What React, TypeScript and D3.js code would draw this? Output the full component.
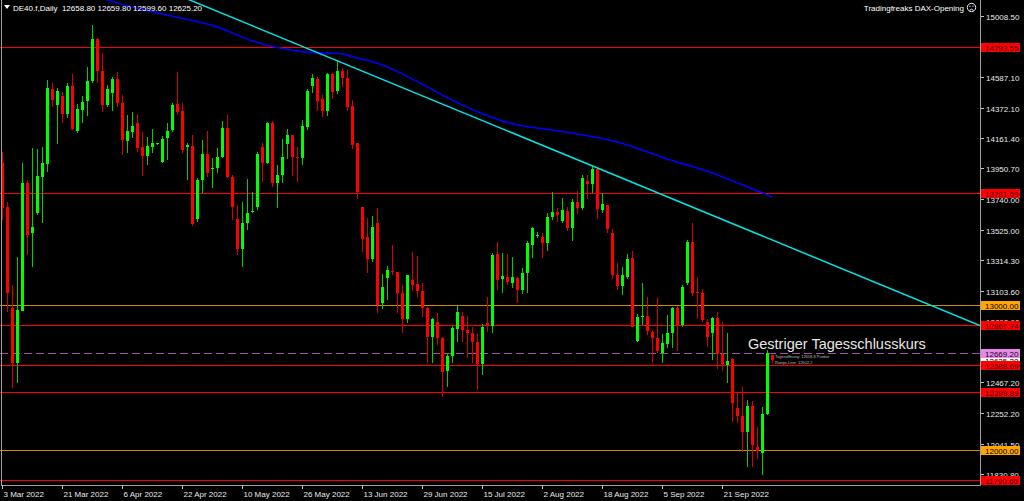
import React from 'react';
import * as d3 from 'd3';

// Daily candles DE40, 3 Mar 2022 .. current bar
const openP = [13989,13683,12983,12601,12962,13850,13503,13642,13891,13982,14502,14391,14453,14329,14523,14211,14356,14419,14557,14849,14627,14391,14474,14571,14405,14141,14204,14266,14100,14037,14100,14120,13995,14162,14218,14398,14349,14100,14107,13600,13871,14051,13947,13954,14030,14231,13891,13600,13392,13572,13649,13683,14100,13989,14266,13850,13905,14120,14183,14030,14023,14238,14523,14571,14433,14349,14606,14488,14627,14578,14384,14127,13683,13475,13322,13572,13017,13191,13239,13232,13087,12906,13177,13149,13101,12983,12781,12885,12774,12545,12649,12837,12927,12830,12809,12747,12594,12878,12858,13357,13184,13198,13156,13191,13107,13225,13420,13482,13475,13434,13614,13649,13586,13656,13538,13718,13676,13864,13843,13947,13662,13697,13503,13212,13135,13198,13330,12754,12920,12927,12816,12774,12670,12733,12809,12983,12865,13156,13440,13094,13087,12885,12809,12913,12663,12587,12629,12289,12233,12122,12303,12018,11977,12247,12658.8];
const highP = [14065,13718,13142,13336,13989,13871,14093,14086,14100,14564,14544,14509,14481,14544,14606,14398,14453,14655,14946,14856,14752,14530,14585,14620,14460,14322,14342,14329,14204,14169,14225,14130,14176,14266,14405,14620,14405,14127,14183,13884,14148,14211,14023,14093,14280,14322,13905,13697,13718,13878,13787,14065,14127,14273,14280,13975,14155,14225,14183,14100,14287,14502,14606,14585,14460,14613,14613,14703,14648,14634,14426,14127,13683,13607,13621,13676,13218,13274,13420,13232,13142,13212,13371,13343,13156,12989,12913,12948,12781,12670,12858,13003,12955,12927,12851,12809,12871,13059,13364,13440,13364,13357,13336,13198,13260,13447,13545,13510,13503,13642,13787,13676,13746,13683,13739,13794,13905,13905,13968,13961,13780,13697,13531,13295,13267,13357,13378,12941,13156,13059,12830,13059,12802,12934,12989,12996,13142,13454,13572,13198,13114,12906,12920,12955,12885,12809,12636,12393,12434,12344,12337,12157,12296,12691,12659.8];
const lowP = [13593,12955,12427,12462,12962,13350,13267,13628,13572,13926,14377,14120,14266,14301,14218,14197,14266,14315,14544,14544,14342,14377,14349,14377,14044,14058,14162,14065,13898,13975,14058,14115,13989,14009,14204,14322,14058,13871,13551,13579,13780,13891,13815,13919,14023,13884,13593,13350,13267,13524,13642,13662,13857,13982,13822,13676,13850,14016,13898,13857,13975,14218,14474,14349,14308,14315,14433,14467,14516,14349,14086,13739,13371,13225,13302,12948,12976,13038,13212,12948,12809,12878,13101,13059,12920,12601,12601,12726,12365,12434,12601,12747,12747,12636,12601,12414,12518,12816,12809,13107,13087,13142,13121,13017,13080,13087,13330,13470,13330,13378,13593,13579,13572,13517,13447,13635,13662,13739,13780,13600,13642,13503,13184,13107,13073,13184,12851,12747,12865,12795,12601,12670,12601,12705,12705,12684,12851,13142,13066,12906,12885,12712,12622,12559,12545,12462,12192,12185,11983,11879,11879,11935,11824,12240,12599.6];
const closeP = [13676,13087,12601,12969,13850,13489,13545,13898,13989,14509,14426,14488,14329,14523,14225,14363,14412,14557,14849,14627,14391,14502,14571,14405,14148,14211,14245,14093,14037,14107,14127,14127,14155,14211,14391,14342,14079,14113,13565,13871,14051,13919,13954,14030,14231,13891,13683,13392,13572,13642,13656,14051,13989,14266,13850,13905,14030,14183,14030,14023,14245,14488,14578,14419,14349,14606,14481,14627,14578,14377,14113,13787,13461,13322,13545,13003,13128,13246,13232,13087,12906,13212,13142,13101,12983,12781,12906,12774,12538,12649,12844,12955,12830,12809,12747,12594,12851,12865,13350,13177,13205,13163,13198,13107,13225,13434,13538,13489,13434,13614,13649,13628,13662,13538,13718,13676,13884,13843,13947,13669,13704,13531,13212,13135,13212,13322,12851,12920,12927,12823,12774,12684,12740,12809,12983,12865,13128,13440,13087,13087,12899,12781,12913,12663,12594,12615,12323,12233,12122,12303,12032,11990,12247,12669.2,12625.2];

// blue moving average, read at some candle positions
const maIndex = [20, 22, 32, 43, 50, 60, 68, 70, 76, 83, 88, 95, 103, 107, 115, 123, 129, 133, 142, 148, 154];
const maValue = [15133, 15108, 15022, 14932, 14835, 14761, 14745, 14726, 14669, 14553, 14460, 14344, 14252, 14231, 14190, 14134, 14065, 14016, 13919, 13836, 13753];

// cyan trend line anchor points
const trendIndex = [40, 190];
const trendValue = [15083, 12939];

const redLevels = [14793.55, 13781.69, 12867.74, 12588.69, 12399.89, 11790.6];
const orangeLevels = [13000, 12000];
const closeLevel = 12669.2;
const bidPrice = 12625.2;

// ticks fully hidden behind level labels are left out
const priceTicks = [15008.5, 14587.1, 14372.1, 14161.4, 13950.7, 13740.0, 13525.0, 13314.3, 13103.6, 12892.9, 12467.2, 12252.2, 12041.5, 11830.8];
const dateLabels = ['3 Mar 2022', '21 Mar 2022', '6 Apr 2022', '22 Apr 2022', '10 May 2022', '26 May 2022', '13 Jun 2022', '29 Jun 2022', '15 Jul 2022', '2 Aug 2022', '18 Aug 2022', '5 Sep 2022', '21 Sep 2022'];
const dateStep = 12;

const W = 1024;
const H = 501;
const plotRight = 980;
const plotBottom = 485;
const font = "Tahoma, 'Liberation Sans', Arial, sans-serif";

export default function App() {
  const x = d3.scaleLinear().domain([0, 1]).range([2.5, 7.5]);
  const y = d3.scaleLinear().domain([11830.8, 15008.5]).range([474, 16]);

  const maLine = d3.line<number>()
    .x((_, i) => x(maIndex[i]))
    .y(d => y(d))
    .curve(d3.curveMonotoneX)(maValue) || '';

  const slope = (trendValue[1] - trendValue[0]) / (trendIndex[1] - trendIndex[0]);
  const tAt = (i: number) => trendValue[0] + slope * (i - trendIndex[0]);
  const iLeft = trendIndex[0] - 10;
  const iRight = x.invert(plotRight);

  const crisp = (v: number) => Math.round(v) + 0.5;

  const label = (p: number, text: string, bg: string, fg: string, key: string) => {
    const cy = Math.round(y(p));
    return (
      <g key={key}>
        <rect x={981} y={cy - 4} width={39} height={9} fill={bg} />
        <text x={985} y={cy + 3.5} fontSize={8} fill={fg} fontFamily={font}>{text}</text>
      </g>
    );
  };

  return (
    <div style={{ position: 'absolute', left: 0, top: 0 }}>
      <svg width={W} height={H} style={{ display: 'block', background: '#000' }}>
        <defs>
          <clipPath id="plot">
            <rect x={0} y={0} width={plotRight} height={plotBottom} />
          </clipPath>
        </defs>
        <rect x={0} y={0} width={W} height={H} fill="#000" />

        <g clipPath="url(#plot)">
          {/* horizontal levels */}
          {redLevels.map((v, i) => (
            <line key={'r' + i} x1={0} x2={plotRight} y1={crisp(y(v))} y2={crisp(y(v))} stroke="#ff0000" strokeWidth={1.2} />
          ))}
          {orangeLevels.map((v, i) => (
            <line key={'o' + i} x1={0} x2={plotRight} y1={crisp(y(v))} y2={crisp(y(v))} stroke="#d08a00" strokeWidth={1.2} />
          ))}
          <line x1={0} x2={plotRight} y1={crisp(y(closeLevel))} y2={crisp(y(closeLevel))} stroke="#a050a0" strokeWidth={1} strokeDasharray="8 4" />

          {/* candles */}
          {openP.map((o, i) => {
            const c = closeP[i];
            const up = c >= o;
            const cx = x(i);
            const top = Math.round(y(Math.max(o, c)));
            const bot = Math.round(y(Math.min(o, c)));
            return (
              <g key={'c' + i}>
                <line x1={cx} x2={cx} y1={Math.round(y(highP[i]))} y2={Math.round(y(lowP[i]))} stroke={up ? '#00d000' : '#d80000'} strokeWidth={1} />
                <rect x={cx - 1.5} y={top} width={3} height={Math.max(1, bot - top)} fill={up ? '#00ff00' : '#ff0000'} />
              </g>
            );
          })}

          {/* moving average */}
          <path d={maLine} fill="none" stroke="#0000ff" strokeWidth={1.5} />

          {/* trend line */}
          <line x1={x(iLeft)} y1={y(tAt(iLeft))} x2={x(iRight)} y2={y(tAt(iRight))} stroke="#00e5e5" strokeWidth={1.5} />
        </g>

        {/* annotations */}
        <text x={748} y={349} fontSize={14.5} fill="#e6e6e6" fontFamily="'Liberation Sans', Arial, sans-serif">Gestriger Tagesschlusskurs</text>
        <text x={775} y={357.5} fontSize={4} fill="#bbbbbb" fontFamily={font}>Tagesöffnung: 12658.8 Punkte</text>
        <text x={775} y={363.5} fontSize={4} fill="#bbbbbb" fontFamily={font}>Range-Line: 12602.2</text>

        {/* header */}
        <polygon points="4,5 10,5 7,9" fill="#ffffff" />
        <text x={13} y={11} fontSize={8} fill="#ffffff" fontFamily={font} xmlSpace="preserve">DE40.f,Daily  12658.80 12659.80 12599.60 12625.20</text>
        <text x={964} y={11} fontSize={8} fill="#ffffff" fontFamily={font} textAnchor="end">Tradingfreaks DAX-Opening</text>
        <g stroke="#ffffff" strokeWidth={0.9} fill="none">
          <circle cx={971.5} cy={7.5} r={4.2} />
          <path d="M969.3,10.4 Q971.5,7.9 973.7,10.4" />
        </g>
        <circle cx={970} cy={6.2} r={0.6} fill="#fff" />
        <circle cx={973} cy={6.2} r={0.6} fill="#fff" />

        {/* axes frame */}
        <line x1={1.5} x2={1.5} y1={0} y2={plotBottom} stroke="#a0a0a0" />
        <line x1={plotRight + 0.5} x2={plotRight + 0.5} y1={0} y2={plotBottom + 0.5} stroke="#a0a0a0" />
        <line x1={1} x2={plotRight + 0.5} y1={plotBottom + 0.5} y2={plotBottom + 0.5} stroke="#a0a0a0" />

        {/* price axis */}
        {priceTicks.map((p, i) => {
          const ty = Math.round(y(p)) + 0.5;
          return (
            <g key={'t' + i}>
              <line x1={981} x2={984} y1={ty} y2={ty} stroke="#c0c0c0" />
              <text x={986} y={ty + 3} fontSize={8} fill="#e8e8e8" fontFamily={font}>{p.toFixed(2)}</text>
            </g>
          );
        })}
        {label(bidPrice, bidPrice.toFixed(2), '#ffffff', '#000000', 'bid')}
        {label(closeLevel, closeLevel.toFixed(2), '#e68ae6', '#200020', 'cl')}
        {redLevels.map((v, i) => label(v, v.toFixed(2), '#ff0000', '#4a0000', 'rl' + i))}
        {orangeLevels.map((v, i) => label(v, v.toFixed(2), '#ffa500', '#000000', 'ol' + i))}

        {/* date axis */}
        {dateLabels.map((d, k) => {
          const tx = Math.round(x(k * dateStep)) - 0.5;
          return (
            <g key={'d' + k}>
              <line x1={tx} x2={tx} y1={plotBottom} y2={plotBottom + 4} stroke="#c0c0c0" />
              <text x={tx + 1} y={497} fontSize={8} fill="#e8e8e8" fontFamily={font}>{d}</text>
            </g>
          );
        })}
      </svg>
    </div>
  );
}
